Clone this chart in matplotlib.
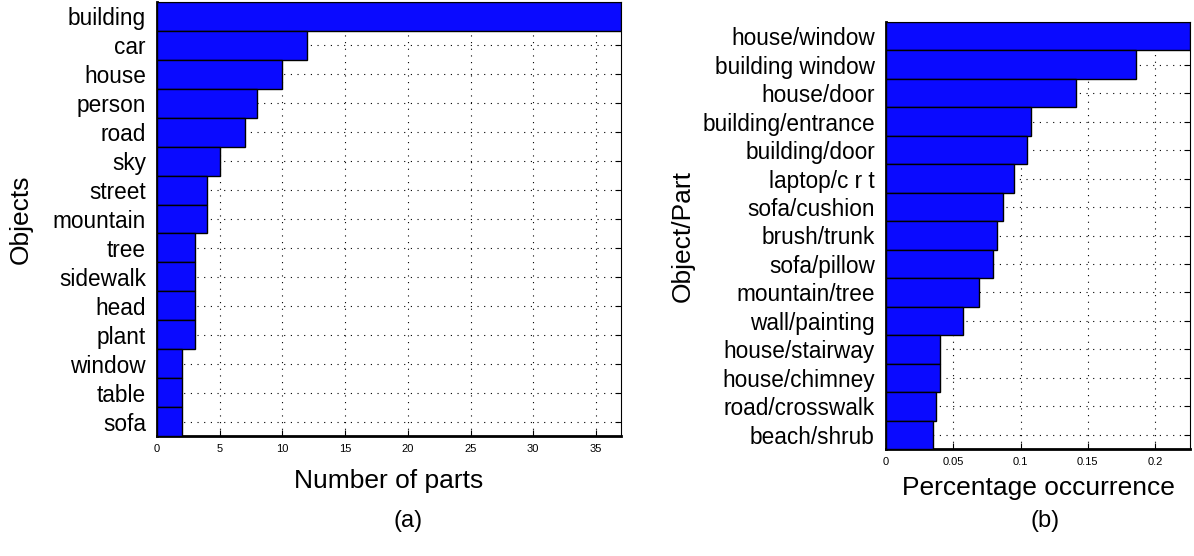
import matplotlib
matplotlib.use("Agg")
import matplotlib.pyplot as plt
import numpy as np

plt.rcParams['font.family'] = ['Liberation Sans', 'DejaVu Sans']

objects = ["building", "car", "house", "person", "road", "sky", "street", "mountain",
           "tree", "sidewalk", "head", "plant", "window", "table", "sofa"]
num_parts = [37, 12, 10, 8, 7, 5, 4, 4, 3, 3, 3, 3, 2, 2, 2]

obj_parts = ["house/window", "building window", "house/door", "building/entrance",
             "building/door", "laptop/c r t", "sofa/cushion", "brush/trunk", "sofa/pillow",
             "mountain/tree", "wall/painting", "house/stairway", "house/chimney",
             "road/crosswalk", "beach/shrub"]
occurrence = [0.226, 0.186, 0.1414, 0.1076, 0.1048, 0.0955, 0.087, 0.0828, 0.0797,
              0.0693, 0.0575, 0.0403, 0.0403, 0.0372, 0.0349]

ticks_a = [0, 5, 10, 15, 20, 25, 30, 35]
ticks_b = [0, 0.05, 0.1, 0.15, 0.2]
ticklabels_b = ["0", "0.05", "0.1", "0.15", "0.2"]

W, H = 1194, 556
fig = plt.figure(figsize=(W / 100, H / 100), dpi=100)

def make_ax(l, r, t, b):
    return fig.add_axes([l / W, 1 - b / H, (r - l) / W, (b - t) / H])

def draw(ax, labels, vals, xmax, xticks, xticklabels, xlabel, ylabel):
    y = np.arange(len(labels))
    ax.set_axisbelow(True)
    ax.grid(True, linestyle=(0, (1, 5)), color='black', linewidth=0.8)
    ax.barh(y, vals, height=1.0, color='#0a0aff', edgecolor='black', linewidth=1.0, zorder=3)
    ax.set_xlim(0, xmax)
    ax.set_ylim(len(labels) - 0.5, -0.5)
    ax.set_yticks(y)
    ax.set_yticklabels(labels, fontsize=16.3)
    ax.set_xticks(xticks)
    ax.set_xticklabels(xticklabels, fontsize=8)
    ax.tick_params(axis='y', which='both', left=False, right=True, direction='in',
                   length=4, pad=8)
    ax.tick_params(axis='x', which='both', top=True, bottom=True, direction='in',
                   length=4, pad=6)
    for s in ['left', 'bottom']:
        ax.spines[s].set_linewidth(2.0)
    for s in ['top', 'right']:
        ax.spines[s].set_linewidth(0.8)
    ax.set_xlabel(xlabel, fontsize=19)
    ax.set_ylabel(ylabel, fontsize=19)

ax1 = make_ax(157, 621, 2, 436)
draw(ax1, objects, num_parts, 37, ticks_a, [str(t) for t in ticks_a],
     "Number of parts", "Objects")
ax1.xaxis.set_label_coords(0.5, -0.076)
ax1.yaxis.set_label_coords(-0.267, 0.5)

ax2 = make_ax(886, 1190, 22, 449)
draw(ax2, obj_parts, occurrence, 0.226, ticks_b, ticklabels_b,
     "Percentage occurrence", "Object/Part")
ax2.xaxis.set_label_coords(0.5, -0.063)
ax2.yaxis.set_label_coords(-0.629, 0.5)

fig.text(408 / W, 1 - 521 / H, "(a)", fontsize=17, ha='center', va='center')
fig.text(1045 / W, 1 - 521 / H, "(b)", fontsize=17, ha='center', va='center')

fig.savefig("out.png", dpi=100)
